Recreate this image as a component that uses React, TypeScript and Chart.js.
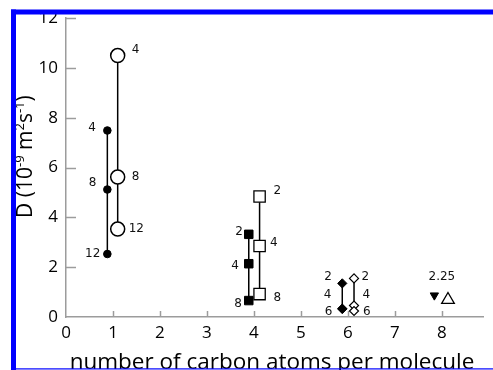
import { useEffect, useRef } from "react";
import { Chart, registerables } from "chart.js";

Chart.register(...registerables);

// Axis ticks
const xTickValues = [0, 1, 2, 3, 4, 5, 6, 7, 8];
const yTickValues = [0, 2, 4, 6, 8, 10, 12];

// C1 — filled and open circles
const circFilledX = [0.88, 0.88, 0.88];
const circFilledY = [7.49, 5.12, 2.53];
const circFilledLabels = ["4", "8", "12"];
const circOpenX = [1.1, 1.1, 1.1];
const circOpenY = [10.5, 5.62, 3.53];
const circOpenLabels = ["4", "8", "12"];

// C4 — filled and open squares
const sqFilledX = [3.89, 3.89, 3.89];
const sqFilledY = [3.32, 2.14, 0.66];
const sqFilledLabels = ["2", "4", "8"];
const sqOpenX = [4.12, 4.12, 4.12];
const sqOpenY = [4.84, 2.85, 0.92];
const sqOpenLabels = ["2", "4", "8"];

// C6 — filled and open diamonds
const dmFilledX = [5.88, 5.88, 5.88];
const dmFilledY = [1.35, 0.34, 0.32];
const dmFilledLabels = ["2", "4", "6"];
const dmOpenX = [6.13, 6.13, 6.13];
const dmOpenY = [1.55, 0.46, 0.24];
const dmOpenLabels = ["2", "4", "6"];

// C8 — triangles
const triDownX = [7.84];
const triDownY = [0.87];
const triUpX = [8.13];
const triUpY = [0.69];
const triNote = "2.25";

const xTitle = "number of carbon atoms per molecule";
// y title as rich text: [text, superscript?]
const yTitleParts: [string, boolean][] = [
  ["D (10", false],
  ["-9", true],
  [" m", false],
  ["2", true],
  ["s", false],
  ["-1", true],
  [")", false],
];

const AXIS_GRAY = "#9c9c9c";
const FRAME_BLUE = "#0000ff";
const TICK_FONT = "Open Sans";
const LABEL_FONT = "DejaVu Sans";

type Place = { side: "left" | "right"; gap: number[]; dy: number[] };

const pts = (xs: number[], ys: number[]) => xs.map((x, i) => ({ x, y: ys[i] }));

function series(
  xs: number[],
  ys: number[],
  labels: string[],
  marker: Record<string, unknown>,
  place: Place | null,
  showLine = true
) {
  return {
    data: pts(xs, ys),
    showLine,
    borderColor: "#000",
    borderWidth: 1.5,
    pointBorderColor: "#000",
    ...marker,
    pointLabels: labels,
    labelPlace: place,
  };
}

const pointLabelPlugin = {
  id: "pointLabels",
  afterDatasetsDraw(chart: any) {
    const { ctx } = chart;
    ctx.save();
    ctx.fillStyle = "#111";
    ctx.font = `12px "${LABEL_FONT}"`;
    ctx.textBaseline = "middle";
    chart.data.datasets.forEach((ds: any, di: number) => {
      const place: Place | null = ds.labelPlace;
      if (!place) return;
      const meta = chart.getDatasetMeta(di);
      meta.data.forEach((el: any, i: number) => {
        const txt = ds.pointLabels[i];
        if (!txt) return;
        if (place.side === "left") {
          ctx.textAlign = "right";
          ctx.fillText(txt, el.x - place.gap[i], el.y + place.dy[i]);
        } else {
          ctx.textAlign = "left";
          ctx.fillText(txt, el.x + place.gap[i], el.y + place.dy[i]);
        }
      });
    });
    // note above the triangle pair, centred on x = 8
    const { x, y } = chart.scales;
    ctx.textAlign = "center";
    ctx.fillText(triNote, x.getPixelForValue(8), y.getPixelForValue(Math.max(triDownY[0], triUpY[0])) - 18);
    ctx.restore();
  },
};

const decorPlugin = {
  id: "decor",
  beforeDatasetsDraw(chart: any) {
    const { ctx, chartArea } = chart;
    const { x, y } = chart.scales;
    ctx.save();
    ctx.strokeStyle = AXIS_GRAY;
    ctx.lineWidth = 1.5;
    // inward tick marks
    xTickValues.forEach((v) => {
      if (v === 0) return;
      const px = Math.round(x.getPixelForValue(v)) + 0.5;
      ctx.beginPath();
      ctx.moveTo(px, chartArea.bottom);
      ctx.lineTo(px, chartArea.bottom - 6);
      ctx.stroke();
    });
    yTickValues.forEach((v) => {
      if (v === 0) return;
      const py = Math.round(y.getPixelForValue(v)) + 0.5;
      ctx.beginPath();
      ctx.moveTo(chartArea.left, py);
      ctx.lineTo(chartArea.left + 10, py);
      ctx.stroke();
    });
    ctx.restore();
  },
  afterDraw(chart: any) {
    const { ctx, chartArea, width, height } = chart;
    ctx.save();
    ctx.fillStyle = "#000";
    // x title
    ctx.font = `22.5px "${TICK_FONT}"`;
    ctx.textAlign = "center";
    ctx.textBaseline = "alphabetic";
    ctx.fillText(xTitle, 272, 369);
    // y title, rotated
    const big = `21px "${TICK_FONT}"`;
    const small = `13px "${TICK_FONT}"`;
    let total = 0;
    yTitleParts.forEach(([t, sup]) => {
      ctx.font = sup ? small : big;
      total += ctx.measureText(t).width;
    });
    ctx.translate(32, (chartArea.top + chartArea.bottom) / 2 - 11);
    ctx.rotate(-Math.PI / 2);
    ctx.textAlign = "left";
    let cx = -total / 2;
    yTitleParts.forEach(([t, sup]) => {
      ctx.font = sup ? small : big;
      ctx.fillText(t, cx, sup ? -8 : 0);
      cx += ctx.measureText(t).width;
    });
    ctx.restore();
    // blue frame
    ctx.save();
    ctx.fillStyle = FRAME_BLUE;
    ctx.fillRect(11, 9.5, width - 11, 5);
    ctx.fillRect(11, 9.5, 5, height - 9.5);
    ctx.fillRect(11, 368.3, width - 11, 1.2);
    ctx.restore();
  },
};

export default function App() {
  const ref = useRef<HTMLCanvasElement | null>(null);

  useEffect(() => {
    const canvas = ref.current;
    if (!canvas) return;
    const chart = new Chart(canvas, {
      type: "scatter",
      data: {
        datasets: [
          series(circOpenX, circOpenY, circOpenLabels,
            { pointStyle: "circle", pointRadius: 7, pointBorderWidth: 1.5, pointBackgroundColor: "#fff" },
            { side: "right", gap: [14, 14, 11], dy: [-6, 0, 0] }),
          series(circFilledX, circFilledY, circFilledLabels,
            { pointStyle: "circle", pointRadius: 3.8, pointBorderWidth: 1, pointBackgroundColor: "#000" },
            { side: "left", gap: [11.5, 11, 7], dy: [-3, -7, 0] }),
          series(sqOpenX, sqOpenY, sqOpenLabels,
            { pointStyle: "rect", pointRadius: 8, pointBorderWidth: 1.3, pointBackgroundColor: "#fff" },
            { side: "right", gap: [14, 10.5, 14], dy: [-6, -3, 4] }),
          series(sqFilledX, sqFilledY, sqFilledLabels,
            { pointStyle: "rect", pointRadius: 6, pointBorderWidth: 1, pointBackgroundColor: "#000" },
            { side: "left", gap: [6, 10, 7], dy: [-2, 2, 3] }),
          series(dmOpenX, dmOpenY, dmOpenLabels,
            { pointStyle: "rectRot", pointRadius: 4.5, pointBorderWidth: 1.2, pointBackgroundColor: "#fff" },
            { side: "right", gap: [7.5, 8.5, 9], dy: [-2, -11, 1] }),
          series(dmFilledX, dmFilledY, dmFilledLabels,
            { pointStyle: "rectRot", pointRadius: 4.6, pointBorderWidth: 1, pointBackgroundColor: "#000" },
            { side: "left", gap: [10.5, 11, 10], dy: [-7, -14, 3] }),
          series(triUpX, triUpY, [],
            { pointStyle: "triangle", pointRadius: 7.3, pointBorderWidth: 1.3, pointBackgroundColor: "#fff" },
            null, false),
          series(triDownX, triDownY, [],
            { pointStyle: "triangle", pointRotation: 180, pointRadius: 4.8, pointBorderWidth: 1, pointBackgroundColor: "#000" },
            null, false),
        ] as any,
      },
      options: {
        animation: false,
        responsive: false,
        devicePixelRatio: 1,
        events: [],
        layout: { padding: { top: 17, left: 0, right: 0, bottom: 0 } },
        plugins: {
          legend: { display: false },
          tooltip: { enabled: false },
        },
        scales: {
          x: {
            type: "linear",
            min: 0,
            max: 8.89,
            afterBuildTicks: (s: any) => {
              s.ticks = xTickValues.map((v) => ({ value: v }));
            },
            afterFit: (s: any) => {
              s.height = 53;
            },
            grid: { display: false, drawTicks: false },
            border: { display: true, color: AXIS_GRAY, width: 1.5 },
            ticks: {
              color: "#000",
              padding: 6,
              font: { family: TICK_FONT, size: 17 },
              maxRotation: 0,
              autoSkip: false,
            },
          },
          y: {
            type: "linear",
            min: 0,
            max: 12,
            afterBuildTicks: (s: any) => {
              s.ticks = yTickValues.map((v) => ({ value: v }));
            },
            afterFit: (s: any) => {
              s.width = 66;
            },
            grid: { display: false, drawTicks: false },
            border: { display: true, color: AXIS_GRAY, width: 1.5 },
            ticks: {
              color: "#000",
              padding: 8,
              font: { family: TICK_FONT, size: 17 },
              autoSkip: false,
            },
          },
        },
      },
      plugins: [decorPlugin, pointLabelPlugin],
    });
    return () => chart.destroy();
  }, []);

  return (
    <div
      style={{
        position: "fixed",
        left: 0,
        top: 0,
        width: 493,
        height: 370,
        overflow: "hidden",
        background: "#fff",
      }}
    >
      <canvas ref={ref} width={493} height={370} style={{ display: "block" }} />
    </div>
  );
}
